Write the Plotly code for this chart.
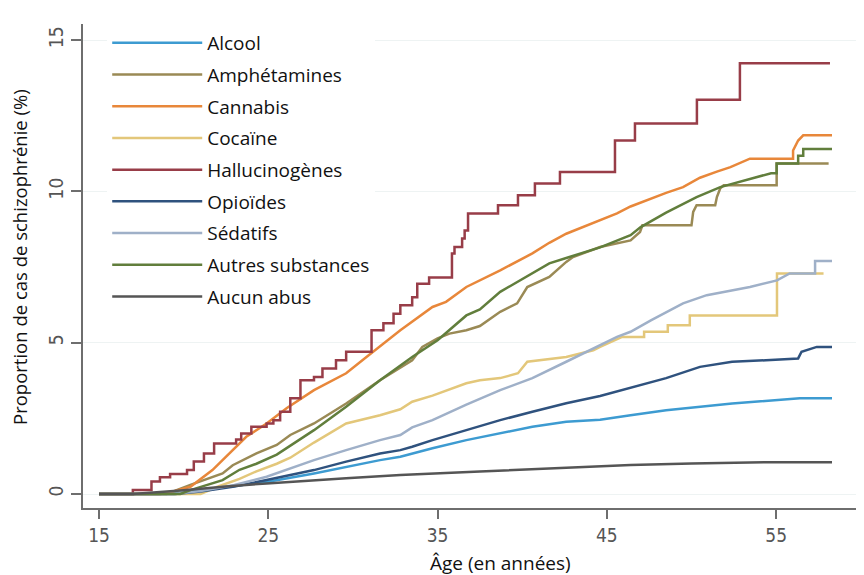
import plotly.graph_objects as go

# ---- data (age in years, cumulative proportion %) ----
names = ["Alcool", "Amphétamines", "Cannabis", "Cocaïne", "Hallucinogènes",
         "Opioïdes", "Sédatifs", "Autres substances", "Aucun abus"]
colors = ["#3d9bd1", "#9a8a55", "#e8873a", "#e3c77a", "#983d48",
          "#2f527e", "#9fb0c8", "#617e3c", "#555555"]

alcool_x = [15, 18.5, 20, 22, 24.9, 27.7, 29.6, 31.6, 32.8, 33.5, 34.7, 36.7, 38.7, 40.6, 42.6, 44.6, 46.4, 48.5, 52.4, 56.4, 58.3]
alcool_y = [0, 0, 0.05, 0.2, 0.4, 0.68, 0.9, 1.12, 1.23, 1.34, 1.51, 1.78, 2.0, 2.22, 2.39, 2.45, 2.6, 2.77, 2.99, 3.16, 3.16]

amph_x = [15, 19.0, 20.4, 21.7, 22.3, 22.9, 24.3, 25.5, 26.3, 27.7, 29.6, 31.6, 33.5, 34.1, 35, 35.7, 36.7, 37.5, 38.7, 39.7, 40.3, 41.6, 42.6, 43.0, 44.6, 46.4, 46.96, 47.1, 50.0, 50.1, 50.3, 51.4, 51.5, 51.7, 51.9, 55.03, 55.03, 58.1]
amph_y = [0, 0, 0.3, 0.57, 0.68, 0.95, 1.34, 1.62, 1.95, 2.33, 2.99, 3.76, 4.42, 4.86, 5.14, 5.3, 5.41, 5.55, 6.02, 6.3, 6.84, 7.17, 7.67, 7.83, 8.16, 8.38, 8.66, 8.88, 8.88, 9.32, 9.54, 9.54, 9.81, 10.1, 10.2, 10.2, 10.92, 10.92]

cann_x = [15, 18.6, 19.5, 20.4, 21.7, 22.9, 23.7, 24.9, 26.1, 27.7, 29.6, 30.8, 32.8, 34.7, 35.5, 36.7, 37.5, 38.7, 40.6, 41.6, 42.6, 44.6, 45.6, 46.4, 47.5, 48.5, 49.5, 50.5, 51.5, 52.3, 53.45, 56.0, 56.0, 56.3, 56.6, 58.3]
cann_y = [0, 0, 0.1, 0.24, 0.79, 1.45, 1.89, 2.33, 2.84, 3.43, 3.99, 4.53, 5.41, 6.18, 6.35, 6.84, 7.05, 7.39, 7.95, 8.3, 8.6, 9.04, 9.27, 9.5, 9.75, 9.95, 10.14, 10.45, 10.65, 10.8, 11.08, 11.08, 11.35, 11.68, 11.85, 11.85]

coca_x = [15, 21.0, 22.0, 23.3, 24.3, 25.5, 26.3, 27.7, 29.6, 31.6, 32.8, 33.5, 34.7, 36.7, 37.5, 38.7, 39.75, 40.3, 42.6, 44.2, 44.6, 45.9, 47.2, 47.2, 48.6, 48.6, 49.9, 49.9, 55.05, 55.05, 57.8]
coca_y = [0, 0, 0.24, 0.5, 0.75, 1.0, 1.2, 1.7, 2.33, 2.6, 2.8, 3.05, 3.25, 3.66, 3.76, 3.83, 3.99, 4.37, 4.53, 4.75, 4.86, 5.19, 5.19, 5.36, 5.36, 5.58, 5.58, 5.9, 5.9, 7.29, 7.29]

hall_x = [15, 17.0, 18.1, 18.6, 19.2, 20.2, 20.6, 21.2, 21.8, 23.1, 23.4, 24.0, 24.9, 25.3, 25.7, 26.3, 26.9, 27.7, 28.2, 29.0, 29.6, 31.1, 31.8, 32.4, 32.8, 33.5, 33.8, 34.5, 35.85, 36.0, 36.45, 36.6, 36.8, 38.57, 39.75, 40.75, 42.23, 45.48, 46.66, 50.32, 52.86, 58.18]
hall_y = [0, 0.13, 0.41, 0.55, 0.66, 0.79, 1.07, 1.34, 1.67, 1.8, 2.0, 2.22, 2.33, 2.44, 2.72, 3.16, 3.76, 3.87, 4.15, 4.42, 4.70, 5.41, 5.64, 5.96, 6.24, 6.5, 6.95, 7.15, 7.95, 8.16, 8.44, 8.71, 9.27, 9.54, 9.87, 10.26, 10.64, 11.68, 12.24, 13.03, 14.23, 14.23]

opio_x = [15, 19.5, 21, 23, 24.9, 27.7, 29.6, 31.6, 32.8, 33.5, 34.7, 36.7, 38.7, 40.6, 42.6, 44.6, 46.5, 48.5, 50.5, 52.4, 54.4, 56.3, 56.5, 57.4, 58.3]
opio_y = [0, 0, 0.08, 0.25, 0.46, 0.79, 1.07, 1.34, 1.45, 1.56, 1.78, 2.11, 2.44, 2.72, 3.0, 3.24, 3.54, 3.83, 4.2, 4.37, 4.42, 4.48, 4.7, 4.86, 4.86]

seda_x = [15, 19.4, 21, 23, 24.9, 27.7, 29.6, 31.6, 32.8, 33.5, 34.7, 36.7, 38.7, 40.6, 42.6, 44.6, 45.6, 46.4, 47.6, 49.5, 50.9, 53.45, 55.05, 55.8, 57.3, 57.3, 58.3]
seda_y = [0, 0, 0.1, 0.3, 0.57, 1.12, 1.45, 1.78, 1.95, 2.2, 2.44, 2.95, 3.43, 3.83, 4.37, 4.92, 5.19, 5.36, 5.74, 6.3, 6.57, 6.84, 7.06, 7.29, 7.29, 7.7, 7.7]

autres_x = [15, 19.8, 20.4, 22.3, 23.3, 24.3, 25.5, 26.3, 27.7, 29.6, 31.6, 33.5, 34.1, 35, 36.7, 37.5, 38.7, 40.6, 41.6, 42.6, 44.6, 46.4, 47.0, 48.5, 50.3, 51.7, 53.0, 54.7, 55.03, 55.03, 56.3, 56.3, 56.6, 56.6, 58.3]
autres_y = [0, 0, 0.13, 0.46, 0.8, 1.0, 1.3, 1.6, 2.11, 2.88, 3.76, 4.53, 4.75, 5.08, 5.9, 6.1, 6.68, 7.29, 7.62, 7.8, 8.15, 8.55, 8.82, 9.3, 9.81, 10.14, 10.35, 10.6, 10.6, 10.92, 10.92, 11.18, 11.18, 11.4, 11.4]

aucun_x = [15, 17.0, 17.8, 20, 22.5, 24.9, 29.6, 32.8, 37.5, 44.6, 46.4, 50, 54.5, 58.3]
aucun_y = [0, 0, 0.03, 0.12, 0.25, 0.35, 0.52, 0.63, 0.74, 0.9, 0.96, 1.01, 1.05, 1.05]

series = [(alcool_x, alcool_y, "linear"), (amph_x, amph_y, "linear"),
          (cann_x, cann_y, "linear"), (coca_x, coca_y, "linear"),
          (hall_x, hall_y, "hv"), (opio_x, opio_y, "linear"),
          (seda_x, seda_y, "linear"), (autres_x, autres_y, "linear"),
          (aucun_x, aucun_y, "linear")]

x_ticks = [15, 25, 35, 45, 55]
y_ticks = [0, 5, 10, 15]

fig = go.Figure()
for i, (xs, ys, shape) in enumerate(series):
    fig.add_trace(go.Scatter(
        x=xs, y=ys, mode="lines", name=names[i], legendgroup=names[i],
        line=dict(color=colors[i], width=2.5, shape=shape),
    ))

tick_font = dict(family="Liberation Sans Narrow, DejaVu Sans Condensed, Arial Narrow, sans-serif",
                 size=19, color="#555555")
text_family = "Open Sans, Noto Sans, sans-serif"

# the page body keeps an 8px margin, so the figure is 8px smaller and margins shifted
fig.update_layout(
    width=856, height=567,
    margin=dict(l=75, r=0, t=16, b=67),
    paper_bgcolor="white", plot_bgcolor="white",
    showlegend=True,
    legend=dict(
        x=0.031, y=1.0, xanchor="left", yanchor="top",
        bgcolor="white", borderwidth=0,
        font=dict(family=text_family, size=19, color="#111111"),
        itemwidth=90, tracegroupgap=4, traceorder="grouped",
    ),
    xaxis=dict(
        range=[14.055, 60.19], tickvals=x_ticks, ticktext=[str(v) for v in x_ticks],
        showline=True, linecolor="#6e6e6e", linewidth=2,
        ticks="outside", ticklen=9, tickwidth=1.5, tickcolor="#6e6e6e",
        tickfont=tick_font, showgrid=False, zeroline=False,
    ),
    yaxis=dict(
        range=[-0.4625, 15.53], tickvals=y_ticks, ticktext=[str(v) for v in y_ticks],
        tickangle=-90,
        showline=True, linecolor="#6e6e6e", linewidth=2,
        ticks="outside", ticklen=10, tickwidth=1.5, tickcolor="#6e6e6e",
        tickfont=tick_font, showgrid=True, gridcolor="#eef3f3", gridwidth=1,
        zeroline=False,
    ),
    annotations=[
        dict(text="Proportion de cas de schizophrénie (%)", xref="paper", yref="paper",
             x=-0.0807, y=0.5186, textangle=-90, showarrow=False,
             xanchor="center", yanchor="middle",
             font=dict(family=text_family, size=18.5, color="#111111")),
        dict(text="Âge (en années)", xref="paper", yref="paper",
             x=0.534, y=-0.114, showarrow=False, xanchor="center", yanchor="middle",
             font=dict(family=text_family, size=19, color="#111111")),
    ],
    shapes=[
        dict(type="line", xref="paper", yref="paper", x0=0.047, x1=1.0, y0=1.039, y1=1.039,
             line=dict(color="#eef2f2", width=1.5)),
    ],
)

fig.write_html("out.html")
